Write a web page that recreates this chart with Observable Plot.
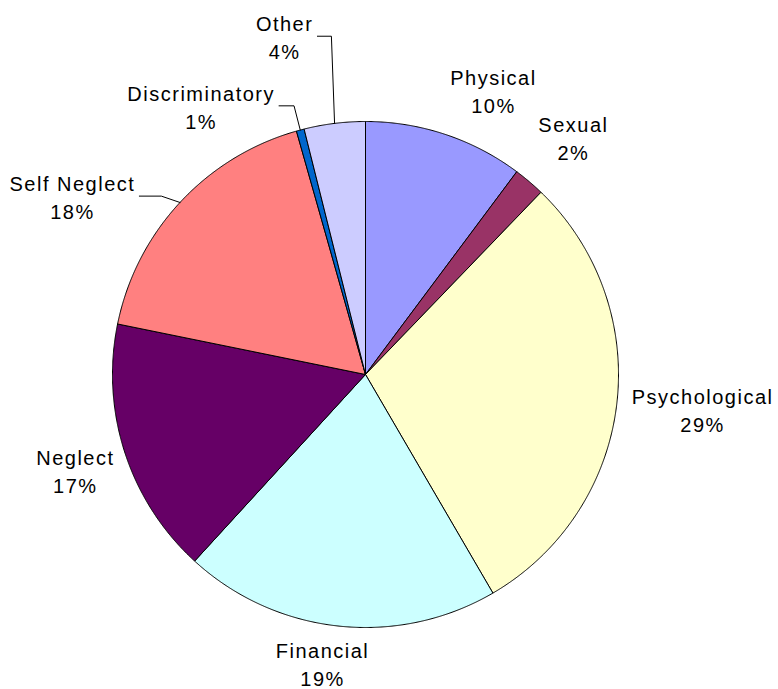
<!DOCTYPE html>
<html><head><meta charset="utf-8">
<script src="https://cdn.jsdelivr.net/npm/d3@7"></script>
<script src="https://cdn.jsdelivr.net/npm/@observablehq/plot@0.6"></script>
<style>html,body{margin:0;padding:0;background:#fff}</style>
</head><body><div id="chart"></div>
<script>
// ---- data ----
const categories = ["Physical","Sexual","Psychological","Financial","Neglect","Self Neglect","Discriminatory","Other"];
const shares = [10.2, 2.0, 29.4, 20.2, 16.4, 17.4, 0.5, 3.9];
const pctLabels = ["10%","2%","29%","19%","17%","18%","1%","4%"];
const colors = ["#9999FF","#993366","#FFFFCC","#CCFFFF","#660066","#FF8080","#0066CC","#CCCCFF"];

// ---- layout ----
const W = 778, H = 689, CX = 365, CY = 374, R = 253;
const FONT = "Liberation Sans, Arial, sans-serif", FS = 20, LS = 1.5;
const labelDist  = [1.226, 1.242, 1.34, 1.160, 1.21, 1.352, 1.238, 1.367];
const labelNudge = [6.0, 1.1, -0.7, 2.3, -0.6, -11.8, -16.7, -6.5];
const labelLift = 2; // px
const leaderSeg = {"Self Neglect": 22, "Discriminatory": 15, "Other": 14};

const total = d3.sum(shares);
const pol = (a, r) => [r * Math.sin(a), r * Math.cos(a)];
const rad = d => d * Math.PI / 180;

// slices as closed polygons (center -> arc -> center)
const slicePts = [];
const info = [];
let cum = 0;
categories.forEach((c, i) => {
  const a0 = cum / total * 2 * Math.PI;
  cum += shares[i];
  const a1 = cum / total * 2 * Math.PI;
  const n = Math.max(4, Math.ceil((a1 - a0) / rad(0.25)));
  slicePts.push({name: c, x: 0, y: 0});
  for (let k = 0; k <= n; k++) {
    const [x, y] = pol(a0 + (a1 - a0) * k / n, 1);
    slicePts.push({name: c, x, y});
  }
  slicePts.push({name: c, x: 0, y: 0});
  info.push({name: c, mid: (a0 + a1) / 2});
});

// labels
const ctx = document.createElement("canvas").getContext("2d");
ctx.font = `${FS}px ${FONT}`;
const tw = s => ctx.measureText(s).width + LS * s.length;
const labels = info.map((d, i) => {
  const [x, y] = pol(d.mid + rad(labelNudge[i]), labelDist[i]);
  return {name: d.name, x, y: y + labelLift / R, text: d.name + "\n" + pctLabels[i],
          w: Math.max(tw(d.name), tw(pctLabels[i])), mid: d.mid};
});

// leader lines
const leaders = [];
labels.forEach(l => {
  if (!(l.name in leaderSeg)) return;
  const ax = l.x + (l.w / 2 + 4) / R;
  const bx = ax + leaderSeg[l.name] / R;
  const [cx, cy] = pol(l.mid, 1);
  leaders.push({name: l.name, x: ax, y: l.y}, {name: l.name, x: bx, y: l.y}, {name: l.name, x: cx, y: cy});
});

const chart = Plot.plot({
  width: W, height: H, margin: 0,
  style: {background: "#fff", letterSpacing: LS + "px"},
  x: {domain: [-CX / R, (W - CX) / R], axis: null},
  y: {domain: [-(H - CY) / R, CY / R], axis: null},
  color: {domain: categories, range: colors},
  marks: [
    Plot.line(slicePts, {x: "x", y: "y", z: "name", fill: "name", stroke: "#000", strokeWidth: 1, strokeLinejoin: "round"}),
    Plot.line(leaders, {x: "x", y: "y", z: "name", stroke: "#000", strokeWidth: 1}),
    Plot.text(labels, {x: "x", y: "y", text: "text", fontSize: FS, fontFamily: FONT, fill: "#000",
                       textAnchor: "middle", lineAnchor: "middle", lineHeight: 1.4})
  ]
});
document.getElementById("chart").appendChild(chart);
</script>
</body></html>
